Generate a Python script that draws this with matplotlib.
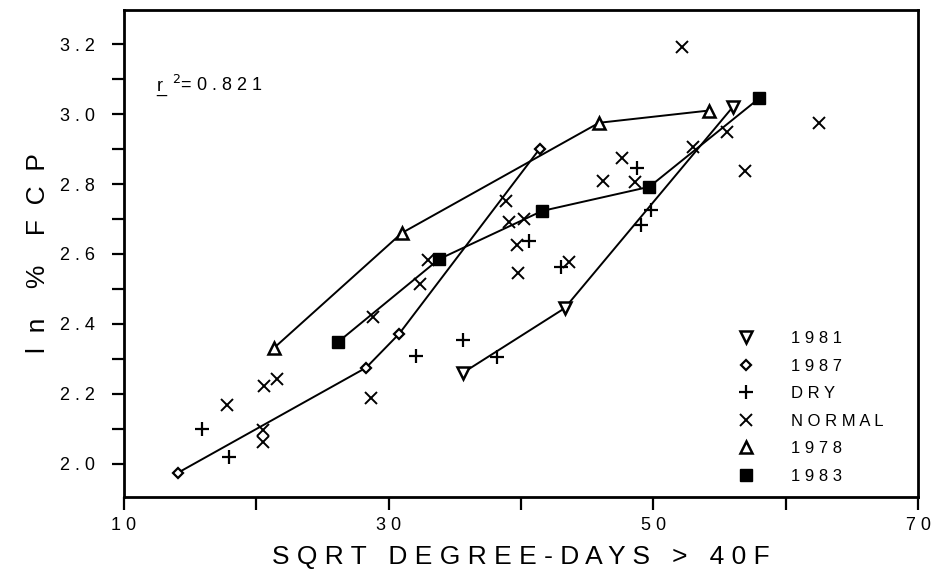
import matplotlib
matplotlib.use("Agg")
import matplotlib.pyplot as plt
from matplotlib.lines import Line2D

plt.rcParams['font.family'] = ['Liberation Sans', 'DejaVu Sans']

# yearly series (connected)
x_1978 = [21.3, 31.0, 45.9, 54.2]
y_1978 = [2.33, 2.66, 2.975, 3.01]
x_1981 = [35.6, 43.3, 56.0]
y_1981 = [2.26, 2.445, 3.02]
x_1987 = [14.1, 28.3, 30.8, 41.4]
y_1987 = [1.975, 2.275, 2.372, 2.90]
x_1983 = [26.2, 33.8, 41.6, 49.7, 58.0]
y_1983 = [2.349, 2.585, 2.723, 2.792, 3.045]

# scatter groups
x_dry = [15.9, 17.9, 32.1, 35.6, 38.2, 40.6, 43.0, 48.8, 49.8, 49.1]
y_dry = [2.099, 2.019, 2.309, 2.355, 2.306, 2.636, 2.562, 2.846, 2.726, 2.682]
x_normal = [17.8, 20.6, 21.6, 20.5, 20.5, 28.7, 28.8, 33.0, 32.4, 38.9, 39.1, 40.2,
            39.7, 39.8, 43.6, 46.2, 47.6, 48.6, 53.0, 55.6, 56.9, 62.5, 52.2]
y_normal = [2.168, 2.223, 2.243, 2.096, 2.062, 2.188, 2.421, 2.582, 2.513, 2.751, 2.691, 2.70,
            2.625, 2.547, 2.576, 2.809, 2.875, 2.806, 2.907, 2.95, 2.838, 2.973, 3.191]

xticks = [10, 20, 30, 40, 50, 60, 70]
xlabels = ["1 0", "", "3 0", "", "5 0", "", "7 0"]
yticks = [2.0, 2.2, 2.4, 2.6, 2.8, 3.0, 3.2]
ylabels = ["2 . 0", "2 . 2", "2 . 4", "2 . 6", "2 . 8", "3 . 0", "3 . 2"]

fig = plt.figure(figsize=(9.32, 5.76), dpi=100)
ax = fig.add_axes([0.133, 0.137, 0.852, 0.846])

lw = 1.4
ax.plot(x_1978, y_1978, color='black', lw=lw, marker='^', ms=8, mfc='white', mec='black', mew=1.8)
ax.plot(x_1981, y_1981, color='black', lw=lw, marker='v', ms=8, mfc='white', mec='black', mew=1.8)
ax.plot(x_1987, y_1987, color='black', lw=lw, marker='D', ms=5, mfc='white', mec='black', mew=1.6)
ax.plot(x_1983, y_1983, color='black', lw=lw, marker='s', ms=8, mfc='black', mec='black')
ax.plot(x_dry, y_dry, ls='none', marker='+', ms=10, color='black', mew=1.6)
ax.plot(x_normal, y_normal, ls='none', marker='x', ms=9, color='black', mew=1.4)

ax.set_xlim(10, 70)
ax.set_ylim(1.905, 3.298)
ax.set_xticks(xticks)
ax.set_xticklabels(xlabels, fontsize=13)
ax.set_yticks(yticks)
ax.set_yticklabels(ylabels, fontsize=13)
ax.set_yticks([2.1, 2.3, 2.5, 2.7, 2.9, 3.1], minor=True)
ax.tick_params(axis='both', which='both', direction='out', length=9, width=1.6, color='black')
ax.tick_params(axis='x', pad=5)
ax.tick_params(axis='y', pad=12)
for s in ax.spines.values():
    s.set_linewidth(2)

ax.set_xlabel("S Q R T   D E G R E E - D A Y S   >   4 0 F", fontsize=19, labelpad=8)
ax.set_ylabel("l  n    %    F  C  P", fontsize=19, labelpad=7)

# r^2 annotation, r underlined
ax.text(12.5, 3.065, "r", fontsize=13, ha='left', va='baseline')
ax.text(12.45, 3.064, "_", fontsize=13, ha='left', va='baseline')
ax.text(13.6, 3.065, "$^{2}$= 0 . 8 2 1", fontsize=13, ha='left', va='baseline')

handles = [
    Line2D([], [], ls='none', marker='v', ms=8, mfc='white', mec='black', mew=1.8),
    Line2D([], [], ls='none', marker='D', ms=5, mfc='white', mec='black', mew=1.6),
    Line2D([], [], ls='none', marker='+', ms=10, color='black', mew=1.6),
    Line2D([], [], ls='none', marker='x', ms=9, color='black', mew=1.4),
    Line2D([], [], ls='none', marker='^', ms=8, mfc='white', mec='black', mew=1.8),
    Line2D([], [], ls='none', marker='s', ms=8, mfc='black', mec='black'),
]
names = ["1 9 8 1", "1 9 8 7", "D R Y", "N O R M A L", "1 9 7 8", "1 9 8 3"]
ax.legend(handles, names, loc='lower left', bbox_to_anchor=(0.745, 0.0), frameon=False,
          fontsize=12, handletextpad=1.7, labelspacing=0.75, borderaxespad=0.4)

fig.savefig("out.png", dpi=100)
